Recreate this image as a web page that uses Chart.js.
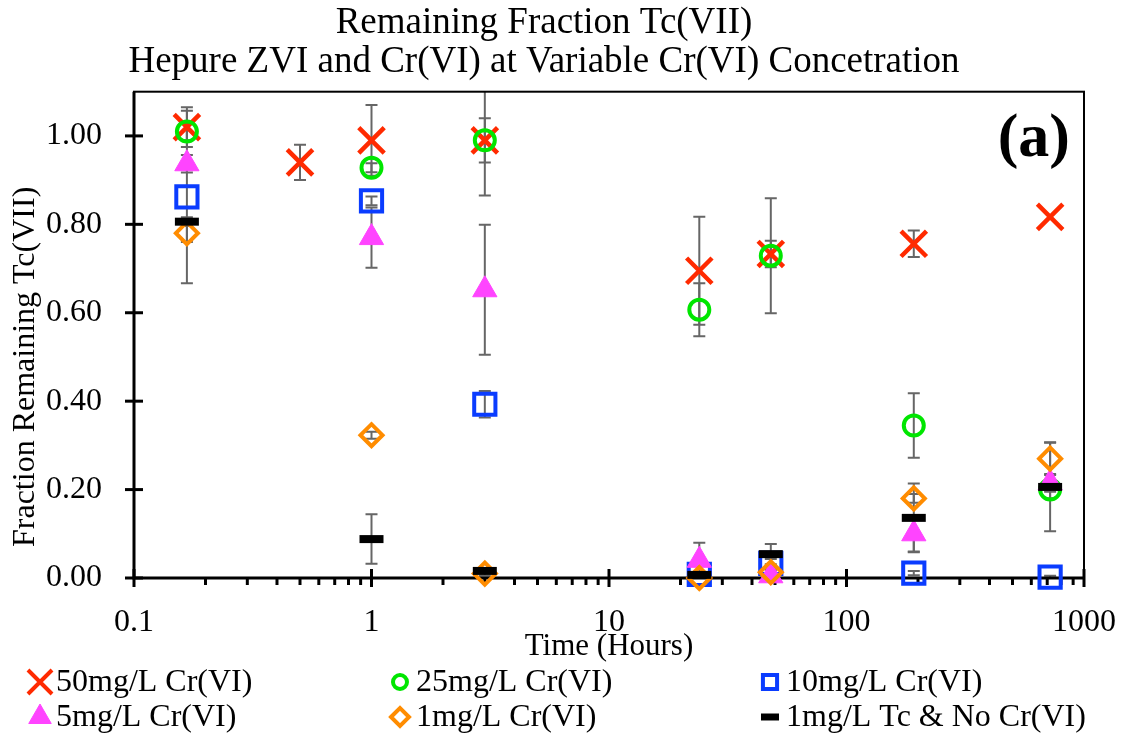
<!DOCTYPE html>
<html>
<head>
<meta charset="utf-8">
<script src="https://cdn.jsdelivr.net/npm/chart.js@4/dist/chart.umd.min.js"></script>
<style>
  html, body { margin: 0; padding: 0; background: #fff; }
  #wrap { width: 1133px; height: 742px; position: relative; }
</style>
</head>
<body>
<div id="wrap"><canvas id="chart"></canvas></div>
<script>
// ===== datos =====
const times = [0.167, 0.5, 1, 3, 24, 48, 192, 720];

const cr50 = [1.02, 0.94, 0.99, 0.99, 0.695, 0.733, 0.756, 0.817];
const cr50Err = [0.045, 0.04, 0.08, 0.05, 0.122, 0.03, 0.03, 0];
const cr25 = [1.01, null, 0.928, 0.99, 0.607, 0.729, 0.345, 0.2];
const cr25Err = [0.02, null, 0.01, 0.125, 0.06, 0.13, 0.073, 0.02];
const cr10 = [0.862, null, 0.853, 0.393, 0.008, 0.033, 0.011, 0.002];
const cr10Err = [0.195, null, 0.01, 0.03, 0.005, 0.01, 0.005, 0.003];
const cr5 = [0.937, null, 0.77, 0.652, 0.04, 0.005, 0.10, 0.215];
const cr5Err = [0.02, null, 0.068, 0.147, 0.04, 0.005, 0.04, 0.02];
const cr1 = [0.78, null, 0.323, 0.01, 0.0, 0.013, 0.18, 0.27];
const cr1Err = [0.02, null, 0.008, 0.005, 0.003, 0.005, 0.01, 0.037];
const noCr = [0.806, null, 0.088, 0.016, 0.007, 0.054, 0.136, 0.206];
const noCrErr = [0.01, null, 0.056, 0.005, 0.005, 0.023, 0.078, 0.10];

const xTicks = [0.1, 1, 10, 100, 1000];
const yTicks = [0, 0.2, 0.4, 0.6, 0.8, 1.0];
const seriesNames = ['50mg/L Cr(VI)', '25mg/L Cr(VI)', '10mg/L Cr(VI)', '5mg/L Cr(VI)', '1mg/L Cr(VI)', '1mg/L Tc & No Cr(VI)'];

const FONT = "'Liberation Serif', 'DejaVu Serif', serif";

function toPoints(values, errs) {
    const pts = [];
    values.forEach((v, i) => {
        if (v !== null) pts.push({ x: times[i], y: v, err: errs[i] });
    });
    return pts;
}

const styles = [
    { pointStyle: 'crossRot', radius: 18, color: '#ff2a00', fill: false, borderWidth: 4.5, legendRadius: 17 },
    { pointStyle: 'circle', radius: 10, color: '#00e600', fill: false, borderWidth: 4, legendRadius: 7 },
    { pointStyle: 'rect', radius: 15, color: '#0a3cff', fill: false, borderWidth: 4, legendRadius: 10 },
    { pointStyle: 'triangle', radius: 14, color: '#ff44ff', fill: true, borderWidth: 1, legendRadius: 13 },
    { pointStyle: 'rectRot', radius: 11, color: '#ff8c00', fill: false, borderWidth: 4, legendRadius: 9 },
    { pointStyle: 'line', radius: 12, color: '#000000', fill: false, borderWidth: 8, legendRadius: 9 }
];
const allValues = [cr50, cr25, cr10, cr5, cr1, noCr];
const allErrs = [cr50Err, cr25Err, cr10Err, cr5Err, cr1Err, noCrErr];

const datasets = allValues.map((vals, i) => ({
    label: seriesNames[i],
    data: toPoints(vals, allErrs[i]),
    showLine: false,
    pointStyle: styles[i].pointStyle,
    pointRadius: styles[i].radius,
    pointHoverRadius: styles[i].radius,
    pointBorderWidth: styles[i].borderWidth,
    borderColor: styles[i].color,
    backgroundColor: styles[i].fill ? styles[i].color : 'rgba(0,0,0,0)',
    order: allValues.length - i,
    clip: false
}));

// barras de error, cuadro del gráfico y marcas de eje
const errorBars = {
    id: 'errorBars',
    beforeDatasetsDraw(chart) {
        const { ctx, chartArea, scales } = chart;
        ctx.save();
        ctx.beginPath();
        ctx.rect(chartArea.left, chartArea.top, chartArea.right - chartArea.left, chartArea.bottom - chartArea.top);
        ctx.clip();
        ctx.strokeStyle = '#666666';
        ctx.lineWidth = 2;
        chart.data.datasets.forEach(ds => {
            ds.data.forEach(p => {
                if (!p.err) return;
                const px = scales.x.getPixelForValue(p.x);
                const top = scales.y.getPixelForValue(p.y + p.err);
                const bot = scales.y.getPixelForValue(p.y - p.err);
                ctx.beginPath();
                ctx.moveTo(px, top); ctx.lineTo(px, bot);
                ctx.moveTo(px - 6, top); ctx.lineTo(px + 6, top);
                ctx.moveTo(px - 6, bot); ctx.lineTo(px + 6, bot);
                ctx.stroke();
            });
        });
        ctx.restore();

        // cuadro
        ctx.save();
        ctx.strokeStyle = '#000';
        ctx.lineWidth = 2;
        ctx.strokeRect(chartArea.left, chartArea.top, chartArea.right - chartArea.left, chartArea.bottom - chartArea.top);
        ctx.lineWidth = 3;
        ctx.beginPath();
        ctx.moveTo(chartArea.left, chartArea.top);
        ctx.lineTo(chartArea.left, chartArea.bottom);
        ctx.lineTo(chartArea.right, chartArea.bottom);
        ctx.stroke();

        // marcas del eje Y
        yTicks.forEach(v => {
            const py = scales.y.getPixelForValue(v);
            ctx.beginPath();
            ctx.moveTo(chartArea.left - 9, py);
            ctx.lineTo(chartArea.left + 9, py);
            ctx.stroke();
        });
        // marcas del eje X (mayores y menores)
        xTicks.forEach((v, i) => {
            const px = scales.x.getPixelForValue(v);
            ctx.beginPath();
            ctx.moveTo(px, chartArea.bottom - 9);
            ctx.lineTo(px, chartArea.bottom + 9);
            ctx.stroke();
            if (i < xTicks.length - 1) {
                for (let k = 2; k <= 9; k++) {
                    const mx = scales.x.getPixelForValue(v * k);
                    ctx.beginPath();
                    ctx.moveTo(mx, chartArea.bottom);
                    ctx.lineTo(mx, chartArea.bottom + 7);
                    ctx.stroke();
                }
            }
        });
        ctx.restore();
    },
    afterDraw(chart) {
        const { ctx, chartArea } = chart;
        ctx.save();
        // etiqueta (a)
        ctx.fillStyle = '#000';
        ctx.font = "bold 62px " + FONT;
        ctx.textAlign = 'right';
        ctx.textBaseline = 'middle';
        ctx.fillText('(a)', chartArea.right - 14, 140);

        // leyenda en 3 columnas
        const colX = [40, 400, 770];
        const rowY = [682, 717];
        ctx.font = "32px " + FONT;
        ctx.textAlign = 'left';
        seriesNames.forEach((name, i) => {
            const cx = colX[i % 3];
            const cy = rowY[Math.floor(i / 3)];
            const st = styles[i];
            ctx.strokeStyle = st.color;
            ctx.fillStyle = st.fill ? st.color : 'rgba(0,0,0,0)';
            ctx.lineWidth = st.pointStyle === 'line' ? 7 : (st.fill ? 1 : 4);
            Chart.helpers.drawPoint(ctx, {
                pointStyle: st.pointStyle,
                radius: st.legendRadius,
                rotation: 0,
                borderWidth: ctx.lineWidth
            }, cx, cy);
            ctx.fillStyle = '#000';
            ctx.fillText(name, cx + 16, cy + 1);
        });
        ctx.restore();
    }
};

const chart = new Chart(document.getElementById('chart'), {
    type: 'scatter',
    data: { datasets: datasets },
    options: {
        responsive: true,
        maintainAspectRatio: false,
        animation: false,
        layout: { padding: { left: 0, right: 45, top: 0, bottom: 74 } },
        plugins: {
            legend: { display: false },
            tooltip: { enabled: false },
            title: {
                display: true,
                text: ['Remaining Fraction Tc(VII)', 'Hepure ZVI and Cr(VI) at Variable Cr(VI) Concetration'],
                color: '#000',
                font: { family: FONT, size: 37, weight: 'normal', lineHeight: 1.05 },
                padding: { top: 4, bottom: 10 }
            }
        },
        scales: {
            x: {
                type: 'logarithmic',
                min: 0.1,
                max: 1000,
                afterBuildTicks: s => { s.ticks = xTicks.map(v => ({ value: v })); },
                afterFit: s => { s.height = 90; },
                grid: { display: false },
                border: { display: false },
                ticks: {
                    color: '#000',
                    padding: 17,
                    maxRotation: 0,
                    font: { family: FONT, size: 32 },
                    callback: v => String(v)
                },
                title: {
                    display: true,
                    text: 'Time (Hours)',
                    color: '#000',
                    font: { family: FONT, size: 31 },
                    padding: { top: 0, bottom: 3 }
                }
            },
            y: {
                min: 0,
                max: 1.1,
                afterBuildTicks: s => { s.ticks = yTicks.map(v => ({ value: v })); },
                afterFit: s => { s.width = 134; },
                grid: { display: false },
                border: { display: false },
                ticks: {
                    color: '#000',
                    padding: 24,
                    font: { family: FONT, size: 32 },
                    callback: v => Number(v).toFixed(2)
                },
                title: {
                    display: true,
                    // espacios finales para bajar el texto como en el original
                    text: 'Fraction Remaining Tc(VII)' + '\u00a0'.repeat(8),
                    color: '#000',
                    font: { family: FONT, size: 32 },
                    padding: { top: 6, bottom: 0 }
                }
            }
        }
    },
    plugins: [errorBars]
});
</script>
</body>
</html>
